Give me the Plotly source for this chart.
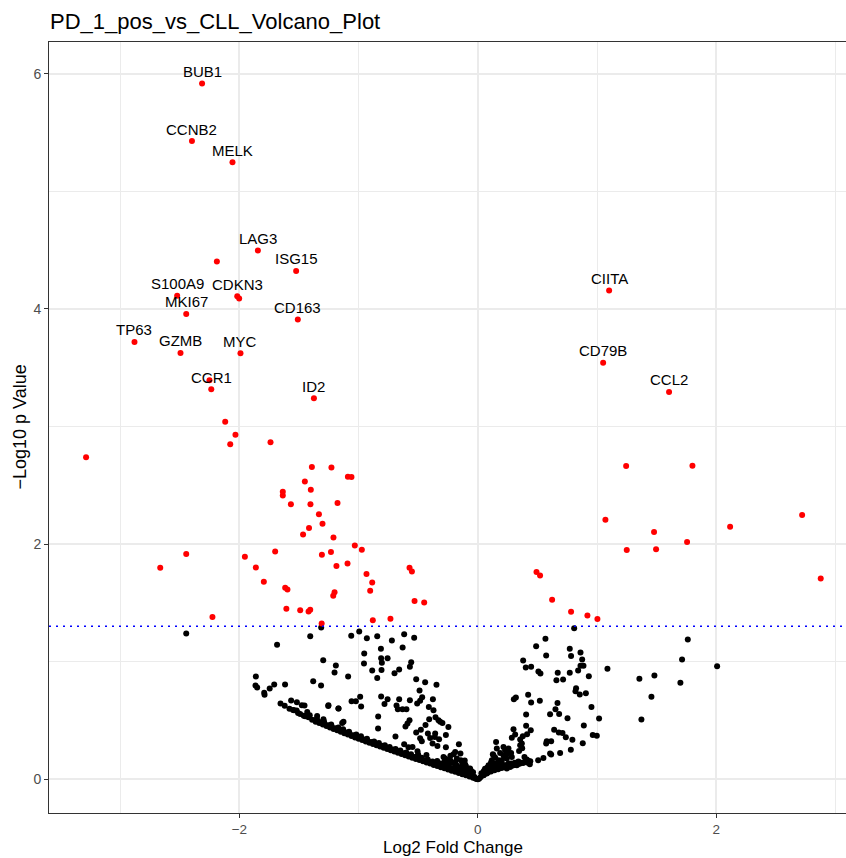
import plotly.graph_objects as go

# Labelled genes (log2 fold change, -log10 p value)
label_genes = ["BUB1", "CCNB2", "MELK", "LAG3", "ISG15", "S100A9", "CDKN3", "MKI67", "CD163",
               "TP63", "GZMB", "MYC", "CCR1", "ID2", "CIITA", "CD79B", "CCL2"]
label_fc = [-2.313, -2.398, -2.058, -1.845, -1.524, -2.522, -2.018, -2.446, -1.510,
            -2.880, -2.494, -1.991, -2.236, -1.375, 1.101, 1.051, 1.604]
label_p = [5.918, 5.427, 5.248, 4.496, 4.323, 4.113, 4.108, 3.957, 3.909,
           3.719, 3.626, 3.623, 3.316, 3.240, 4.156, 3.543, 3.294]

# Other significant genes (p < 0.05)
sig_fc = [-2.189, -2.002, -2.251, -2.119, -2.033, -2.077, -1.739, -3.286,
          -1.392, -1.228, -1.090, -1.060, -1.451, -1.636, -1.636, -1.401, -1.568, -1.404,
          -1.177, -1.333, -1.303, -1.416, -1.466, -1.211, -1.032, -0.973, -2.446, -1.700,
          -1.954, -1.308, -1.232, -2.664, -1.862, -1.186, -1.093, -0.934, -0.573, -0.553,
          -1.795, -0.886, -1.616, -1.597, -0.903, -1.202, -1.213, -0.531, -1.606, -1.490,
          -1.420, -1.406, -2.226, -0.881, -0.733, -1.310, -0.450,
          1.244, 1.800, 2.720, 1.070, 2.116, 1.478, 1.755, 1.249, 1.495, 2.876,
          0.492, 0.522, 0.623, 0.782, 0.919, 1.003]
sig_p = [4.403, 4.088, 3.393, 3.041, 2.930, 2.848, 2.865, 2.738,
         2.655, 2.652, 2.573, 2.570, 2.533, 2.445, 2.414, 2.462, 2.338, 2.338,
         2.349, 2.253, 2.173, 2.136, 2.082, 2.057, 1.989, 1.952, 1.915, 1.938,
         1.892, 1.909, 1.932, 1.798, 1.801, 1.813, 1.835, 1.745, 1.798, 1.767,
         1.679, 1.674, 1.628, 1.614, 1.603, 1.591, 1.560, 1.515, 1.449, 1.438,
         1.427, 1.441, 1.379, 1.353, 1.364, 1.325, 1.504,
         2.664, 2.667, 2.247, 2.207, 2.148, 2.102, 2.017, 1.949, 1.957, 1.708,
         1.762, 1.733, 1.526, 1.424, 1.393, 1.362]

# Non-significant genes, down-regulated side
ns_down_fc = [-2.446, -1.314, -1.406, -1.062, -0.995, -0.931, -0.844, -0.721, -0.618, -0.534,
              -1.684, -0.813, -0.631, -0.953, -1.297, -1.191, -0.955, -0.811, -0.805, -0.757,
              -0.559, -0.570, -1.202, -0.886, -0.808, -0.660, -0.699, -1.088, -0.844, -1.862,
              -0.517, -1.381, -1.315, -0.442, -0.347, -1.865, -1.851, -1.708, -1.617, -1.746,
              -1.792, -1.789, -0.489, -0.467, -0.987, -0.811, -0.757, -0.660, -0.570, -0.377,
              -1.059, -1.023, -1.655, -1.566, -1.518, -1.476, -1.454, -1.255, -0.979, -0.783,
              -0.682, -0.671, -0.632, -0.599, -0.509, -0.484, -0.411, -0.372, -1.169, -1.542,
              -1.508, -1.431, -1.448, -1.420, -0.836, -0.355, -0.408, -0.573, -0.590, -0.607,
              -0.330, -0.316, -0.297, -0.247, -0.439, -0.478, -0.837, -1.138, -1.295, -1.348,
              -0.517, -0.419, -0.268, -0.691, -0.484, -0.400, -0.361, -0.470, -0.380, -0.339,
              -0.325, -0.618, -0.582, -0.548, -0.268, -0.159, -0.506, -0.501, -0.431, -0.274,
              -0.204, -0.146, -0.190, -0.143, -0.106, -0.092, -0.341, -0.316, -0.056, -0.176,
              -1.127, -0.358, -0.190, -0.176, -0.232, -0.120, -0.148, -0.078, -0.288, -0.260,
              -0.065, -1.253, -1.169]
ns_down_p = [1.240, 1.291, 1.217, 1.220, 1.257, 1.200, 1.217, 1.180, 1.234, 1.203,
             1.143, 1.109, 1.121, 1.070, 1.013, 0.967, 0.984, 1.030, 0.990, 1.030,
             0.996, 0.956, 0.908, 0.925, 0.930, 0.934, 0.902, 0.874, 0.862, 0.874,
             0.851, 0.834, 0.797, 0.826, 0.803, 0.797, 0.780, 0.806, 0.806, 0.772,
             0.735, 0.718, 0.755, 0.698, 0.701, 0.704, 0.681, 0.681, 0.672, 0.681,
             0.664, 0.664, 0.644, 0.670, 0.655, 0.630, 0.627, 0.624, 0.619, 0.641,
             0.627, 0.596, 0.596, 0.596, 0.644, 0.667, 0.615, 0.587, 0.601, 0.587,
             0.564, 0.573, 0.536, 0.528, 0.534, 0.528, 0.511, 0.502, 0.474, 0.449,
             0.502, 0.488, 0.479, 0.445, 0.462, 0.420, 0.431, 0.479, 0.511, 0.539,
             0.397, 0.389, 0.377, 0.363, 0.349, 0.351, 0.360, 0.323, 0.304, 0.283,
             0.340, 0.298, 0.272, 0.275, 0.272, 0.298, 0.238, 0.210, 0.207, 0.176,
             0.213, 0.219, 0.147, 0.162, 0.125, 0.091, 0.156, 0.134, 0.071, 0.117,
             0.488, 0.389, 0.232, 0.176, 0.162, 0.119, 0.091, 0.062, 0.190, 0.162,
             0.091, 0.630, 0.601]

# Non-significant genes, up-regulated side
ns_up_fc = [0.808, 0.567, 0.489, 0.771, 1.761, 0.573, 0.782, 0.861, 0.875, 0.380,
            0.402, 0.447, 0.508, 0.525, 0.670, 0.659, 0.715, 0.771, 0.841, 0.861,
            0.886, 0.931, 1.087, 1.355, 1.481, 1.713, 1.699, 2.007, 1.456, 1.372,
            0.824, 0.819, 0.855, 0.906, 0.953, 1.017, 0.964, 0.998, 0.889, 0.880,
            0.780, 0.793, 0.738, 0.710, 0.679, 0.640, 0.690, 0.752, 0.682, 0.651,
            0.668, 0.606, 0.520, 0.447, 0.422, 0.319, 0.302, 0.405, 0.405, 0.444,
            0.413, 0.299, 0.313, 0.285, 0.355, 0.369, 0.346, 0.372, 0.391, 0.416,
            0.436, 0.573, 0.615, 0.578, 0.606, 0.615, 0.550, 0.506, 0.153, 0.215,
            0.257, 0.279, 0.248, 0.159, 0.126, 0.187, 0.221, 0.117, 0.145, 0.187,
            0.103, 0.089, 0.075, 0.047, 0.173, 0.201, 0.271, 0.327, 0.243, 0.377,
            0.355, 0.131, 0.145, 0.215, 0.285, 0.243, 0.201, 0.131, 0.159, 0.257,
            0.299, 0.341, 0.397, 0.411, 0.229]
ns_up_p = [1.285, 1.194, 1.132, 1.109, 1.189, 1.053, 1.049, 1.078, 1.019, 1.010,
           0.951, 0.956, 0.917, 0.899, 0.905, 0.843, 0.849, 0.905, 0.925, 0.965,
           0.965, 0.877, 0.939, 0.854, 0.882, 1.019, 0.820, 0.962, 0.701, 0.508,
           0.774, 0.749, 0.721, 0.732, 0.615, 0.517, 0.377, 0.369, 0.457, 0.306,
           0.250, 0.335, 0.357, 0.394, 0.397, 0.420, 0.224, 0.519, 0.556, 0.596,
           0.649, 0.553, 0.667, 0.653, 0.718, 0.695, 0.681, 0.551, 0.454, 0.417,
           0.383, 0.426, 0.380, 0.352, 0.338, 0.304, 0.241, 0.264, 0.190, 0.142,
           0.128, 0.304, 0.323, 0.323, 0.219, 0.210, 0.181, 0.162, 0.317, 0.275,
           0.261, 0.224, 0.219, 0.261, 0.213, 0.224, 0.196, 0.162, 0.134, 0.105,
           0.105, 0.077, 0.049, 0.034, 0.162, 0.134, 0.105, 0.119, 0.091, 0.366,
           0.289, 0.204, 0.184, 0.204, 0.190, 0.176, 0.162, 0.091, 0.119, 0.134,
           0.119, 0.134, 0.147, 0.168, 0.247]

# Dense run of low-count genes along the lower edge of the down-regulated arm
edge_down_fc = [-1.62, -1.58, -1.55, -1.49, -1.46, -1.39, -1.36, -1.33, -1.30, -1.27,
                -1.24, -1.21, -1.18, -1.15, -1.12, -1.09, -1.06, -1.03, -1.00, -0.97,
                -0.94, -0.91, -0.88, -0.85, -0.82, -0.79, -0.76, -0.73, -0.70, -0.67,
                -0.64, -0.61, -0.58, -0.55, -0.52, -0.49, -0.46, -0.43, -0.40, -0.37,
                -0.34, -0.31, -0.28, -0.25, -0.22, -0.19, -0.16, -0.13, -0.10, -0.07,
                -0.04, -0.02,
                -1.41, -1.35, -1.29, -1.23, -1.17, -1.13, -1.08, -1.02, -0.98, -0.93,
                -0.87, -0.83, -0.78, -0.74, -0.69, -0.65, -0.60, -0.56, -0.51, -0.47,
                -0.42, -0.38, -0.33, -0.29, -0.24, -0.20, -0.17, -0.14, -0.11, -0.08,
                -0.05,
                -1.52, -1.43, -1.345, -1.315, -1.285, -1.255, -1.225, -1.195, -1.165, -1.135,
                -1.105, -1.075, -1.045, -1.015, -0.985, -0.955, -0.925, -0.895, -0.865, -0.835,
                -0.805, -0.775, -0.745, -0.715, -0.685, -0.655, -0.625, -0.595, -0.565, -0.535,
                -0.505, -0.475, -0.445, -0.415, -0.385, -0.355, -0.325, -0.295, -0.265, -0.235,
                -0.205, -0.175, -0.145, -0.115, -0.085, -0.055, -0.03,
                -0.22, -0.19, -0.15, -0.13, -0.12, -0.10, -0.09, -0.07, -0.06, -0.04,
                -0.25, -0.28, -0.23, -0.11, -0.01, 0.00]
edge_down_p = [0.625, 0.600, 0.588, 0.556, 0.540, 0.505, 0.490, 0.478, 0.466, 0.453,
               0.440, 0.428, 0.416, 0.404, 0.392, 0.380, 0.368, 0.356, 0.345, 0.333,
               0.321, 0.310, 0.299, 0.289, 0.278, 0.268, 0.257, 0.247, 0.236, 0.225,
               0.215, 0.204, 0.194, 0.183, 0.173, 0.163, 0.153, 0.143, 0.133, 0.122,
               0.112, 0.102, 0.093, 0.083, 0.073, 0.063, 0.053, 0.043, 0.033, 0.023,
               0.013, 0.006,
               0.545, 0.515, 0.490, 0.465, 0.440, 0.425, 0.405, 0.380, 0.365, 0.345,
               0.322, 0.308, 0.290, 0.275, 0.258, 0.245, 0.228, 0.213, 0.195, 0.182,
               0.167, 0.152, 0.135, 0.120, 0.105, 0.092, 0.080, 0.068, 0.055, 0.042,
               0.030,
               0.584, 0.535, 0.496, 0.484, 0.472, 0.459, 0.446, 0.434, 0.422, 0.410,
               0.398, 0.386, 0.374, 0.362, 0.351, 0.339, 0.327, 0.317, 0.306, 0.295,
               0.285, 0.274, 0.264, 0.253, 0.242, 0.232, 0.222, 0.211, 0.200, 0.190,
               0.180, 0.170, 0.160, 0.150, 0.139, 0.129, 0.119, 0.109, 0.100, 0.090,
               0.080, 0.070, 0.060, 0.050, 0.040, 0.030, 0.022,
               0.140, 0.120, 0.100, 0.130, 0.085, 0.110, 0.065, 0.090, 0.050, 0.060,
               0.130, 0.150, 0.200, 0.160, 0.003, 0.000]

# Same for the up-regulated arm
edge_up_fc = [0.01, 0.02, 0.05, 0.08, 0.11, 0.14, 0.17, 0.20, 0.23, 0.26, 0.29, 0.32,
              0.35, 0.38, 0.41, 0.44,
              0.04, 0.07, 0.10, 0.13, 0.16, 0.19, 0.22, 0.25, 0.28, 0.31, 0.34,
              0.035, 0.065, 0.095, 0.125, 0.155, 0.185, 0.215, 0.245, 0.275, 0.305,
              0.335, 0.365, 0.395, 0.425,
              0.03, 0.06, 0.09, 0.05, 0.11, 0.08, 0.12]
edge_up_p = [0.004, 0.015, 0.036, 0.055, 0.066, 0.077, 0.086, 0.095, 0.103, 0.110, 0.117, 0.124,
             0.131, 0.138, 0.145, 0.153,
             0.045, 0.070, 0.080, 0.095, 0.100, 0.110, 0.120, 0.125, 0.135, 0.140, 0.150,
             0.030, 0.050, 0.065, 0.078, 0.088, 0.097, 0.106, 0.113, 0.120, 0.127,
             0.134, 0.141, 0.148, 0.155,
             0.050, 0.090, 0.120, 0.070, 0.140, 0.100, 0.110]

p_cutoff = 1.301  # -log10(0.05)

FONT = "Liberation Sans, Arial, Helvetica, sans-serif"
GRID = "#EBEBEB"
DOT = 6

fig = go.Figure()

black_fc = ns_down_fc + ns_up_fc + edge_down_fc + edge_up_fc
black_p = ns_down_p + ns_up_p + edge_down_p + edge_up_p
fig.add_trace(go.Scatter(x=black_fc, y=black_p, mode="markers",
                         marker=dict(color="black", size=DOT, line=dict(width=0)),
                         hoverinfo="skip", showlegend=False))
fig.add_trace(go.Scatter(x=sig_fc + label_fc, y=sig_p + label_p, mode="markers",
                         marker=dict(color="#FF0000", size=DOT, line=dict(width=0)),
                         hoverinfo="skip", showlegend=False))

# significance threshold
fig.add_shape(type="line", xref="paper", x0=0, x1=1, yref="y", y0=p_cutoff, y1=p_cutoff,
              line=dict(color="#0000FF", width=1.6, dash="2px,5px"), layer="above")

# gene labels just above their points
for g, fx, py in zip(label_genes, label_fc, label_p):
    fig.add_annotation(x=fx, y=py, text=g, showarrow=False, yshift=12,
                       xanchor="center", yanchor="middle",
                       font=dict(family=FONT, size=15, color="black"))

# axis titles
fig.add_annotation(xref="paper", yref="paper", x=(453 - 49) / 797, y=-(847.5 - 813) / 771,
                   text="Log2 Fold Change", showarrow=False, xanchor="center", yanchor="middle",
                   borderpad=0, font=dict(family=FONT, size=17, color="black"))
fig.add_annotation(xref="paper", yref="paper", x=(19 - 49) / 797, y=0.5,
                   text="\u2212Log10 p Value", showarrow=False, textangle=-90,
                   xanchor="center", yanchor="middle",
                   font=dict(family=FONT, size=18, color="black"))

fig.update_layout(
    width=846, height=858,
    margin=dict(l=49, r=0, t=42, b=45),
    paper_bgcolor="white", plot_bgcolor="white",
    font=dict(family=FONT),
    title=dict(text="PD_1_pos_vs_CLL_Volcano_Plot", xref="container", yref="container",
               x=50 / 846, xanchor="left", y=1 - 21 / 858, yanchor="middle",
               font=dict(family=FONT, size=22, color="black")),
)
fig.update_xaxes(range=[-3.597, 3.088], tick0=0, dtick=2, zeroline=False,
                 showgrid=True, gridcolor=GRID, gridwidth=2,
                 minor=dict(dtick=1, tick0=0, showgrid=True, gridcolor=GRID, gridwidth=1),
                 showline=True, linecolor="#333333", linewidth=1, mirror=True,
                 ticks="outside", ticklen=4, tickwidth=1, tickcolor="#333333",
                 tickfont=dict(family=FONT, size=13.5, color="#4D4D4D"))
fig.update_yaxes(range=[-0.287, 6.27], tick0=0, dtick=2, zeroline=False,
                 showgrid=True, gridcolor=GRID, gridwidth=2,
                 minor=dict(dtick=1, tick0=0, showgrid=True, gridcolor=GRID, gridwidth=1),
                 showline=True, linecolor="#333333", linewidth=1, mirror=False,
                 ticks="outside", ticklen=4, tickwidth=1, tickcolor="#333333",
                 tickfont=dict(family=FONT, size=14, color="#4D4D4D"))

fig.write_html("out.html")
